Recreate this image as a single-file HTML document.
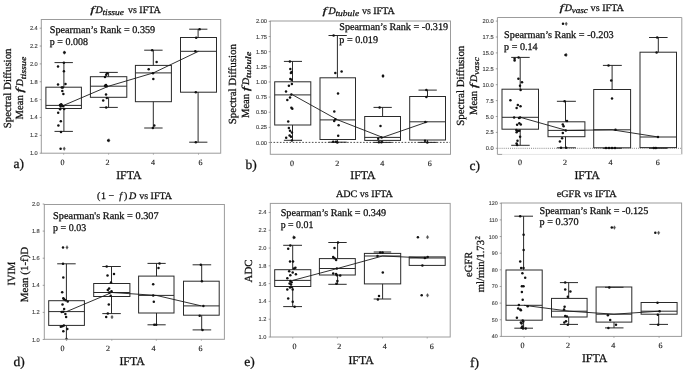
<!DOCTYPE html>
<html><head><meta charset="utf-8"><style>
html,body{margin:0;padding:0;background:#fff;width:685px;height:370px;overflow:hidden;font-family:"Liberation Serif", serif;}
svg{display:block;will-change:transform} text{text-rendering:geometricPrecision}
</style></head><body>
<svg width="685" height="370" viewBox="0 0 685 370">
<rect width="685" height="370" fill="#fff"/>
<rect x="45.9" y="87.2" width="35.50" height="21.30" fill="none" stroke="#2a2a2a" stroke-width="1.0"/>
<line x1="45.9" y1="105.4" x2="81.4" y2="105.4" stroke="#2a2a2a" stroke-width="1.0"/>
<line x1="63.9" y1="62.6" x2="63.9" y2="87.2" stroke="#2a2a2a" stroke-width="1.0"/>
<line x1="63.9" y1="108.5" x2="63.9" y2="131.4" stroke="#2a2a2a" stroke-width="1.0"/>
<line x1="54.5" y1="62.6" x2="72.9" y2="62.6" stroke="#2a2a2a" stroke-width="1.0"/>
<line x1="54.5" y1="131.4" x2="72.9" y2="131.4" stroke="#2a2a2a" stroke-width="1.0"/>
<rect x="90.4" y="76.7" width="36.40" height="20.60" fill="none" stroke="#2a2a2a" stroke-width="1.0"/>
<line x1="90.4" y1="86.2" x2="126.8" y2="86.2" stroke="#2a2a2a" stroke-width="1.0"/>
<line x1="108.6" y1="72.4" x2="108.6" y2="76.7" stroke="#2a2a2a" stroke-width="1.0"/>
<line x1="108.6" y1="97.3" x2="108.6" y2="107.4" stroke="#2a2a2a" stroke-width="1.0"/>
<line x1="99.5" y1="72.4" x2="117.8" y2="72.4" stroke="#2a2a2a" stroke-width="1.0"/>
<line x1="99.5" y1="107.4" x2="117.8" y2="107.4" stroke="#2a2a2a" stroke-width="1.0"/>
<rect x="135.4" y="65.4" width="36.00" height="36.30" fill="none" stroke="#2a2a2a" stroke-width="1.0"/>
<line x1="135.4" y1="72.9" x2="171.4" y2="72.9" stroke="#2a2a2a" stroke-width="1.0"/>
<line x1="153.3" y1="50.2" x2="153.3" y2="65.4" stroke="#2a2a2a" stroke-width="1.0"/>
<line x1="153.3" y1="101.7" x2="153.3" y2="128.0" stroke="#2a2a2a" stroke-width="1.0"/>
<line x1="144.2" y1="50.2" x2="162.6" y2="50.2" stroke="#2a2a2a" stroke-width="1.0"/>
<line x1="144.2" y1="128.0" x2="162.6" y2="128.0" stroke="#2a2a2a" stroke-width="1.0"/>
<rect x="180.5" y="37.5" width="36.00" height="54.70" fill="none" stroke="#2a2a2a" stroke-width="1.0"/>
<line x1="180.5" y1="51.3" x2="216.5" y2="51.3" stroke="#2a2a2a" stroke-width="1.0"/>
<line x1="198.1" y1="29.2" x2="198.1" y2="37.5" stroke="#2a2a2a" stroke-width="1.0"/>
<line x1="198.1" y1="92.2" x2="198.1" y2="142.2" stroke="#2a2a2a" stroke-width="1.0"/>
<line x1="189.2" y1="29.2" x2="207.4" y2="29.2" stroke="#2a2a2a" stroke-width="1.0"/>
<line x1="189.2" y1="142.2" x2="207.4" y2="142.2" stroke="#2a2a2a" stroke-width="1.0"/>
<polyline points="63.65,105.4 108.60,86.2 153.40,72.9 198.50,51.3" fill="none" stroke="#1a1a1a" stroke-width="0.9"/>
<path d="M64.2 146.79999999999998L65.45 148.7L64.2 150.6L62.95 148.7Z" fill="#555" stroke="#444" stroke-width="0.3"/>
<path d="M108.9 138.5L110.15 140.4L108.9 142.3L107.65 140.4Z" fill="#555" stroke="#444" stroke-width="0.3"/>
<path d="M64.3 50.7L65.55 52.6L64.3 54.5L63.05 52.6Z" fill="#555" stroke="#444" stroke-width="0.3"/>
<circle cx="64.5" cy="52.6" r="1.25" fill="#111"/>
<circle cx="63.9" cy="62.8" r="1.25" fill="#111"/>
<circle cx="58" cy="66.6" r="1.25" fill="#111"/>
<circle cx="63.9" cy="71.3" r="1.25" fill="#111"/>
<circle cx="58" cy="84.5" r="1.25" fill="#111"/>
<circle cx="65.5" cy="84.1" r="1.25" fill="#111"/>
<circle cx="61.8" cy="87.4" r="1.25" fill="#111"/>
<circle cx="62.8" cy="87.6" r="1.25" fill="#111"/>
<circle cx="62.3" cy="91" r="1.25" fill="#111"/>
<circle cx="63.4" cy="94" r="1.25" fill="#111"/>
<circle cx="60" cy="105" r="1.25" fill="#111"/>
<circle cx="61.2" cy="104.3" r="1.25" fill="#111"/>
<circle cx="62.2" cy="105.6" r="1.25" fill="#111"/>
<circle cx="60.6" cy="106.4" r="1.25" fill="#111"/>
<circle cx="63.2" cy="106.2" r="1.25" fill="#111"/>
<circle cx="60.1" cy="109.2" r="1.25" fill="#111"/>
<circle cx="64.2" cy="109" r="1.25" fill="#111"/>
<circle cx="58.2" cy="112.8" r="1.25" fill="#111"/>
<circle cx="60.8" cy="121.2" r="1.25" fill="#111"/>
<circle cx="58.4" cy="125.6" r="1.25" fill="#111"/>
<circle cx="61" cy="131.9" r="1.25" fill="#111"/>
<circle cx="107.2" cy="73.3" r="1.25" fill="#111"/>
<circle cx="106.2" cy="74.7" r="1.25" fill="#111"/>
<circle cx="105" cy="76.9" r="1.25" fill="#111"/>
<circle cx="106" cy="85.1" r="1.25" fill="#111"/>
<circle cx="106.8" cy="86.3" r="1.25" fill="#111"/>
<circle cx="105" cy="85.7" r="1.25" fill="#111"/>
<circle cx="106" cy="94.5" r="1.25" fill="#111"/>
<circle cx="106.8" cy="98.1" r="1.25" fill="#111"/>
<circle cx="103.2" cy="100.6" r="1.25" fill="#111"/>
<circle cx="106.2" cy="107.6" r="1.25" fill="#111"/>
<circle cx="60.6" cy="148.7" r="1.25" fill="#111"/>
<circle cx="108.2" cy="140.4" r="1.25" fill="#111"/>
<circle cx="152.2" cy="50.2" r="1.25" fill="#111"/>
<circle cx="156.6" cy="62" r="1.25" fill="#111"/>
<circle cx="148.7" cy="69.3" r="1.25" fill="#111"/>
<circle cx="153" cy="73.3" r="1.25" fill="#111"/>
<circle cx="153.3" cy="79.1" r="1.25" fill="#111"/>
<circle cx="152.9" cy="128" r="1.25" fill="#111"/>
<circle cx="154.3" cy="125.6" r="1.25" fill="#111"/>
<circle cx="199.6" cy="29.2" r="1.25" fill="#111"/>
<circle cx="196.2" cy="37.7" r="1.25" fill="#111"/>
<circle cx="195.3" cy="51.3" r="1.25" fill="#111"/>
<circle cx="195.8" cy="92.2" r="1.25" fill="#111"/>
<circle cx="195.8" cy="142.2" r="1.25" fill="#111"/>
<rect x="41.3" y="19.5" width="179.40" height="133.70" fill="none" stroke="#9c9c9c" stroke-width="1"/>
<line x1="39.699999999999996" y1="153.20" x2="41.3" y2="153.20" stroke="#666" stroke-width="0.6"/>
<text x="37.8" y="155.20" text-anchor="end" font-family='"Liberation Sans", sans-serif' font-size="5.7" fill="#404040" stroke="#404040" stroke-width="0.12">1.0</text>
<line x1="39.699999999999996" y1="135.34" x2="41.3" y2="135.34" stroke="#666" stroke-width="0.6"/>
<text x="37.8" y="137.34" text-anchor="end" font-family='"Liberation Sans", sans-serif' font-size="5.7" fill="#404040" stroke="#404040" stroke-width="0.12">1.2</text>
<line x1="39.699999999999996" y1="117.48" x2="41.3" y2="117.48" stroke="#666" stroke-width="0.6"/>
<text x="37.8" y="119.48" text-anchor="end" font-family='"Liberation Sans", sans-serif' font-size="5.7" fill="#404040" stroke="#404040" stroke-width="0.12">1.4</text>
<line x1="39.699999999999996" y1="99.62" x2="41.3" y2="99.62" stroke="#666" stroke-width="0.6"/>
<text x="37.8" y="101.62" text-anchor="end" font-family='"Liberation Sans", sans-serif' font-size="5.7" fill="#404040" stroke="#404040" stroke-width="0.12">1.6</text>
<line x1="39.699999999999996" y1="81.76" x2="41.3" y2="81.76" stroke="#666" stroke-width="0.6"/>
<text x="37.8" y="83.76" text-anchor="end" font-family='"Liberation Sans", sans-serif' font-size="5.7" fill="#404040" stroke="#404040" stroke-width="0.12">1.8</text>
<line x1="39.699999999999996" y1="63.90" x2="41.3" y2="63.90" stroke="#666" stroke-width="0.6"/>
<text x="37.8" y="65.90" text-anchor="end" font-family='"Liberation Sans", sans-serif' font-size="5.7" fill="#404040" stroke="#404040" stroke-width="0.12">2.0</text>
<line x1="39.699999999999996" y1="46.04" x2="41.3" y2="46.04" stroke="#666" stroke-width="0.6"/>
<text x="37.8" y="48.04" text-anchor="end" font-family='"Liberation Sans", sans-serif' font-size="5.7" fill="#404040" stroke="#404040" stroke-width="0.12">2.2</text>
<line x1="39.699999999999996" y1="28.18" x2="41.3" y2="28.18" stroke="#666" stroke-width="0.6"/>
<text x="37.8" y="30.18" text-anchor="end" font-family='"Liberation Sans", sans-serif' font-size="5.7" fill="#404040" stroke="#404040" stroke-width="0.12">2.4</text>
<line x1="63.65" y1="153.2" x2="63.65" y2="154.79999999999998" stroke="#888" stroke-width="0.6"/>
<line x1="108.60" y1="153.2" x2="108.60" y2="154.79999999999998" stroke="#888" stroke-width="0.6"/>
<line x1="153.40" y1="153.2" x2="153.40" y2="154.79999999999998" stroke="#888" stroke-width="0.6"/>
<line x1="198.50" y1="153.2" x2="198.50" y2="154.79999999999998" stroke="#888" stroke-width="0.6"/>
<text x="62.6" y="165.1" text-anchor="middle" font-family='"Liberation Serif", serif' font-size="8.0" fill="#222" stroke="#222" stroke-width="0.15">0</text>
<text x="107.6" y="165.1" text-anchor="middle" font-family='"Liberation Serif", serif' font-size="8.0" fill="#222" stroke="#222" stroke-width="0.15">2</text>
<text x="153.1" y="165.1" text-anchor="middle" font-family='"Liberation Serif", serif' font-size="8.0" fill="#222" stroke="#222" stroke-width="0.15">4</text>
<text x="200.5" y="165.1" text-anchor="middle" font-family='"Liberation Serif", serif' font-size="8.0" fill="#222" stroke="#222" stroke-width="0.15">6</text>
<text x="90.2" y="12.8" font-family='"Liberation Serif", serif' font-size="10" font-style="italic" textLength="4.20" lengthAdjust="spacingAndGlyphs" fill="#111" stroke="#111" stroke-width="0.26">f</text>
<text x="95.4" y="12.8" font-family='"Liberation Serif", serif' font-size="10" font-style="italic" fill="#111" stroke="#111" stroke-width="0.26">D</text>
<text x="102.4" y="15.2" font-family='"Liberation Serif", serif' font-size="8.4" font-style="italic" textLength="21.50" lengthAdjust="spacingAndGlyphs" fill="#111" stroke="#111" stroke-width="0.26">tissue</text>
<text x="128.0" y="12.8" font-family='"Liberation Serif", serif' font-size="10" textLength="32.60" lengthAdjust="spacingAndGlyphs" fill="#111" stroke="#111" stroke-width="0.26">vs IFTA</text>
<text x="49.8" y="33.4" font-family='"Liberation Serif", serif' font-size="10.2" textLength="105.40" lengthAdjust="spacingAndGlyphs" fill="#111" stroke="#111" stroke-width="0.26">Spearman’s Rank = 0.359</text>
<text x="49.8" y="45.3" font-family='"Liberation Serif", serif' font-size="10.2" textLength="38.10" lengthAdjust="spacingAndGlyphs" fill="#111" stroke="#111" stroke-width="0.26">p = 0.008</text>
<text transform="translate(10.8,128.3) rotate(-90)" x="0" y="0" font-family='"Liberation Serif", serif' font-size="10.9" textLength="79.80" lengthAdjust="spacingAndGlyphs" fill="#111" stroke="#111" stroke-width="0.26">Spectral Diffusion</text>
<text transform="translate(23.4,119.4) rotate(-90)" x="0" y="0" font-family='"Liberation Serif", serif' font-size="10.9" textLength="24.10" lengthAdjust="spacingAndGlyphs" fill="#111" stroke="#111" stroke-width="0.26">Mean</text>
<text transform="translate(23.4,92.7) rotate(-90)" x="0" y="0" font-family='"Liberation Serif", serif' font-size="10.5" font-style="italic" textLength="4.70" lengthAdjust="spacingAndGlyphs" fill="#111" stroke="#111" stroke-width="0.26">f</text>
<text transform="translate(23.4,86.3) rotate(-90)" x="0" y="0" font-family='"Liberation Serif", serif' font-size="10" font-style="italic" fill="#111" stroke="#111" stroke-width="0.26">D</text>
<text transform="translate(25.6,79.3) rotate(-90)" x="0" y="0" font-family='"Liberation Serif", serif' font-size="8" font-style="italic" textLength="22.70" lengthAdjust="spacingAndGlyphs" fill="#111" stroke="#111" stroke-width="0.26">tissue</text>
<text x="13.5" y="167.7" font-family='"Liberation Serif", serif' font-size="13.5" fill="#111" stroke="#111" stroke-width="0.26">a)</text>
<text x="116.2" y="179.1" font-family='"Liberation Serif", serif' font-size="11.8" fill="#111" stroke="#111" stroke-width="0.26">IFTA</text>
<line x1="270.3" y1="142.4" x2="450.5" y2="142.4" stroke="#3a3a3a" stroke-width="0.9" stroke-dasharray="1.6 1.6"/>
<rect x="274.7" y="81.8" width="36.10" height="43.20" fill="none" stroke="#2a2a2a" stroke-width="1.0"/>
<line x1="274.7" y1="94.9" x2="310.8" y2="94.9" stroke="#2a2a2a" stroke-width="1.0"/>
<line x1="292.5" y1="61.4" x2="292.5" y2="81.8" stroke="#2a2a2a" stroke-width="1.0"/>
<line x1="292.5" y1="125.0" x2="292.5" y2="140.3" stroke="#2a2a2a" stroke-width="1.0"/>
<line x1="283.9" y1="61.4" x2="302.0" y2="61.4" stroke="#2a2a2a" stroke-width="1.0"/>
<line x1="283.9" y1="140.3" x2="302.0" y2="140.3" stroke="#2a2a2a" stroke-width="1.0"/>
<rect x="320.0" y="77.8" width="35.50" height="61.70" fill="none" stroke="#2a2a2a" stroke-width="1.0"/>
<line x1="320.0" y1="119.9" x2="355.5" y2="119.9" stroke="#2a2a2a" stroke-width="1.0"/>
<line x1="337.4" y1="35.5" x2="337.4" y2="77.8" stroke="#2a2a2a" stroke-width="1.0"/>
<line x1="337.4" y1="139.5" x2="337.4" y2="142.2" stroke="#2a2a2a" stroke-width="1.0"/>
<line x1="328.5" y1="35.5" x2="346.8" y2="35.5" stroke="#2a2a2a" stroke-width="1.0"/>
<line x1="328.5" y1="142.2" x2="346.8" y2="142.2" stroke="#2a2a2a" stroke-width="1.0"/>
<rect x="364.7" y="116.5" width="35.80" height="23.90" fill="none" stroke="#2a2a2a" stroke-width="1.0"/>
<line x1="364.7" y1="137.4" x2="400.5" y2="137.4" stroke="#2a2a2a" stroke-width="1.0"/>
<line x1="382.6" y1="107.4" x2="382.6" y2="116.5" stroke="#2a2a2a" stroke-width="1.0"/>
<line x1="382.6" y1="140.4" x2="382.6" y2="142.4" stroke="#2a2a2a" stroke-width="1.0"/>
<line x1="373.5" y1="107.4" x2="391.8" y2="107.4" stroke="#2a2a2a" stroke-width="1.0"/>
<line x1="373.5" y1="142.4" x2="391.8" y2="142.4" stroke="#2a2a2a" stroke-width="1.0"/>
<rect x="409.7" y="96.5" width="35.80" height="43.50" fill="none" stroke="#2a2a2a" stroke-width="1.0"/>
<line x1="409.7" y1="121.8" x2="445.5" y2="121.8" stroke="#2a2a2a" stroke-width="1.0"/>
<line x1="427.5" y1="90.1" x2="427.5" y2="96.5" stroke="#2a2a2a" stroke-width="1.0"/>
<line x1="427.5" y1="140.0" x2="427.5" y2="142.4" stroke="#2a2a2a" stroke-width="1.0"/>
<line x1="418.5" y1="90.1" x2="436.8" y2="90.1" stroke="#2a2a2a" stroke-width="1.0"/>
<line x1="418.5" y1="142.4" x2="436.8" y2="142.4" stroke="#2a2a2a" stroke-width="1.0"/>
<polyline points="292.75,94.9 337.75,119.9 382.60,137.4 427.60,121.8" fill="none" stroke="#1a1a1a" stroke-width="0.9"/>
<path d="M383.0 74.1L384.25 76.0L383.0 77.9L381.75 76.0Z" fill="#555" stroke="#444" stroke-width="0.3"/>
<circle cx="289.9" cy="61.4" r="1.25" fill="#111"/>
<circle cx="290.3" cy="68.9" r="1.25" fill="#111"/>
<circle cx="291.6" cy="71.9" r="1.25" fill="#111"/>
<circle cx="290.9" cy="73" r="1.25" fill="#111"/>
<circle cx="290.3" cy="79" r="1.25" fill="#111"/>
<circle cx="291.6" cy="79.7" r="1.25" fill="#111"/>
<circle cx="291.9" cy="84.1" r="1.25" fill="#111"/>
<circle cx="288.9" cy="85.7" r="1.25" fill="#111"/>
<circle cx="286" cy="91.5" r="1.25" fill="#111"/>
<circle cx="291.4" cy="94.5" r="1.25" fill="#111"/>
<circle cx="290" cy="97.6" r="1.25" fill="#111"/>
<circle cx="287.3" cy="99.9" r="1.25" fill="#111"/>
<circle cx="291.4" cy="107.8" r="1.25" fill="#111"/>
<circle cx="292.3" cy="108.8" r="1.25" fill="#111"/>
<circle cx="288.2" cy="121.6" r="1.25" fill="#111"/>
<circle cx="288.9" cy="128" r="1.25" fill="#111"/>
<circle cx="290" cy="130.8" r="1.25" fill="#111"/>
<circle cx="291.9" cy="132.4" r="1.25" fill="#111"/>
<circle cx="289.6" cy="135.4" r="1.25" fill="#111"/>
<circle cx="291" cy="136.8" r="1.25" fill="#111"/>
<circle cx="286.2" cy="137.8" r="1.25" fill="#111"/>
<circle cx="291.9" cy="140.5" r="1.25" fill="#111"/>
<circle cx="333.6" cy="35.5" r="1.25" fill="#111"/>
<circle cx="335.3" cy="73.1" r="1.25" fill="#111"/>
<circle cx="341.6" cy="71.4" r="1.25" fill="#111"/>
<circle cx="338" cy="93.4" r="1.25" fill="#111"/>
<circle cx="334.3" cy="111.4" r="1.25" fill="#111"/>
<circle cx="334.2" cy="121" r="1.25" fill="#111"/>
<circle cx="335.3" cy="119.2" r="1.25" fill="#111"/>
<circle cx="338.6" cy="125.3" r="1.25" fill="#111"/>
<circle cx="338.2" cy="135.8" r="1.25" fill="#111"/>
<circle cx="333.2" cy="141.8" r="1.25" fill="#111"/>
<circle cx="336" cy="141.8" r="1.25" fill="#111"/>
<circle cx="337.3" cy="142.6" r="1.25" fill="#111"/>
<circle cx="383" cy="76" r="1.25" fill="#111"/>
<circle cx="379.6" cy="107.4" r="1.25" fill="#111"/>
<circle cx="380.5" cy="126" r="1.25" fill="#111"/>
<circle cx="381.6" cy="137.4" r="1.25" fill="#111"/>
<circle cx="378.2" cy="138.8" r="1.25" fill="#111"/>
<circle cx="378.9" cy="142.2" r="1.25" fill="#111"/>
<circle cx="381.4" cy="142.2" r="1.25" fill="#111"/>
<circle cx="426.4" cy="90.1" r="1.25" fill="#111"/>
<circle cx="426.4" cy="96.9" r="1.25" fill="#111"/>
<circle cx="425.3" cy="121.9" r="1.25" fill="#111"/>
<circle cx="425" cy="140.8" r="1.25" fill="#111"/>
<circle cx="427.3" cy="142.4" r="1.25" fill="#111"/>
<rect x="270.3" y="21.0" width="180.20" height="133.30" fill="none" stroke="#9c9c9c" stroke-width="1"/>
<line x1="268.7" y1="142.50" x2="270.3" y2="142.50" stroke="#666" stroke-width="0.6"/>
<text x="267.0" y="144.50" text-anchor="end" font-family='"Liberation Sans", sans-serif' font-size="5.7" fill="#404040" stroke="#404040" stroke-width="0.12">0.00</text>
<line x1="268.7" y1="127.36" x2="270.3" y2="127.36" stroke="#666" stroke-width="0.6"/>
<text x="267.0" y="129.36" text-anchor="end" font-family='"Liberation Sans", sans-serif' font-size="5.7" fill="#404040" stroke="#404040" stroke-width="0.12">0.25</text>
<line x1="268.7" y1="112.22" x2="270.3" y2="112.22" stroke="#666" stroke-width="0.6"/>
<text x="267.0" y="114.22" text-anchor="end" font-family='"Liberation Sans", sans-serif' font-size="5.7" fill="#404040" stroke="#404040" stroke-width="0.12">0.50</text>
<line x1="268.7" y1="97.08" x2="270.3" y2="97.08" stroke="#666" stroke-width="0.6"/>
<text x="267.0" y="99.08" text-anchor="end" font-family='"Liberation Sans", sans-serif' font-size="5.7" fill="#404040" stroke="#404040" stroke-width="0.12">0.75</text>
<line x1="268.7" y1="81.94" x2="270.3" y2="81.94" stroke="#666" stroke-width="0.6"/>
<text x="267.0" y="83.94" text-anchor="end" font-family='"Liberation Sans", sans-serif' font-size="5.7" fill="#404040" stroke="#404040" stroke-width="0.12">1.00</text>
<line x1="268.7" y1="66.80" x2="270.3" y2="66.80" stroke="#666" stroke-width="0.6"/>
<text x="267.0" y="68.80" text-anchor="end" font-family='"Liberation Sans", sans-serif' font-size="5.7" fill="#404040" stroke="#404040" stroke-width="0.12">1.25</text>
<line x1="268.7" y1="51.66" x2="270.3" y2="51.66" stroke="#666" stroke-width="0.6"/>
<text x="267.0" y="53.66" text-anchor="end" font-family='"Liberation Sans", sans-serif' font-size="5.7" fill="#404040" stroke="#404040" stroke-width="0.12">1.50</text>
<line x1="268.7" y1="36.52" x2="270.3" y2="36.52" stroke="#666" stroke-width="0.6"/>
<text x="267.0" y="38.52" text-anchor="end" font-family='"Liberation Sans", sans-serif' font-size="5.7" fill="#404040" stroke="#404040" stroke-width="0.12">1.75</text>
<line x1="268.7" y1="21.38" x2="270.3" y2="21.38" stroke="#666" stroke-width="0.6"/>
<text x="267.0" y="23.38" text-anchor="end" font-family='"Liberation Sans", sans-serif' font-size="5.7" fill="#404040" stroke="#404040" stroke-width="0.12">2.00</text>
<text x="291.9" y="165.9" text-anchor="middle" font-family='"Liberation Serif", serif' font-size="8.0" fill="#222" stroke="#222" stroke-width="0.15">0</text>
<text x="337.2" y="165.9" text-anchor="middle" font-family='"Liberation Serif", serif' font-size="8.0" fill="#222" stroke="#222" stroke-width="0.15">2</text>
<text x="382.3" y="165.9" text-anchor="middle" font-family='"Liberation Serif", serif' font-size="8.0" fill="#222" stroke="#222" stroke-width="0.15">4</text>
<text x="429.8" y="165.9" text-anchor="middle" font-family='"Liberation Serif", serif' font-size="8.0" fill="#222" stroke="#222" stroke-width="0.15">6</text>
<text x="322.6" y="13.9" font-family='"Liberation Serif", serif' font-size="10" font-style="italic" textLength="4.20" lengthAdjust="spacingAndGlyphs" fill="#111" stroke="#111" stroke-width="0.26">f</text>
<text x="328.4" y="13.9" font-family='"Liberation Serif", serif' font-size="10" font-style="italic" fill="#111" stroke="#111" stroke-width="0.26">D</text>
<text x="335.5" y="16.2" font-family='"Liberation Serif", serif' font-size="8.4" font-style="italic" textLength="23.60" lengthAdjust="spacingAndGlyphs" fill="#111" stroke="#111" stroke-width="0.26">tubule</text>
<text x="361.9" y="14.3" font-family='"Liberation Serif", serif' font-size="10" textLength="32.80" lengthAdjust="spacingAndGlyphs" fill="#111" stroke="#111" stroke-width="0.26">vs IFTA</text>
<text x="339.3" y="30.4" font-family='"Liberation Serif", serif' font-size="10.2" textLength="108.80" lengthAdjust="spacingAndGlyphs" fill="#111" stroke="#111" stroke-width="0.26">Spearman’s Rank = -0.319</text>
<text x="339.3" y="42.7" font-family='"Liberation Serif", serif' font-size="10.2" textLength="38.70" lengthAdjust="spacingAndGlyphs" fill="#111" stroke="#111" stroke-width="0.26">p = 0.019</text>
<text transform="translate(235.8,124.2) rotate(-90)" x="0" y="0" font-family='"Liberation Serif", serif' font-size="10.9" textLength="80.10" lengthAdjust="spacingAndGlyphs" fill="#111" stroke="#111" stroke-width="0.26">Spectral Diffusion</text>
<text transform="translate(248.6,118.0) rotate(-90)" x="0" y="0" font-family='"Liberation Serif", serif' font-size="10.9" textLength="24.10" lengthAdjust="spacingAndGlyphs" fill="#111" stroke="#111" stroke-width="0.26">Mean</text>
<text transform="translate(248.6,91.3) rotate(-90)" x="0" y="0" font-family='"Liberation Serif", serif' font-size="10.5" font-style="italic" textLength="4.70" lengthAdjust="spacingAndGlyphs" fill="#111" stroke="#111" stroke-width="0.26">f</text>
<text transform="translate(248.6,84.9) rotate(-90)" x="0" y="0" font-family='"Liberation Serif", serif' font-size="10" font-style="italic" fill="#111" stroke="#111" stroke-width="0.26">D</text>
<text transform="translate(250.8,77.9) rotate(-90)" x="0" y="0" font-family='"Liberation Serif", serif' font-size="8" font-style="italic" textLength="26.30" lengthAdjust="spacingAndGlyphs" fill="#111" stroke="#111" stroke-width="0.26">tubule</text>
<text x="245.5" y="169.3" font-family='"Liberation Serif", serif' font-size="13.5" fill="#111" stroke="#111" stroke-width="0.26">b)</text>
<text x="350.3" y="178.8" font-family='"Liberation Serif", serif' font-size="11.8" fill="#111" stroke="#111" stroke-width="0.26">IFTA</text>
<line x1="497.4" y1="148.3" x2="681.8" y2="148.3" stroke="#8a8a8a" stroke-width="1" stroke-dasharray="1 1.1"/>
<rect x="502.0" y="89.2" width="36.50" height="40.00" fill="none" stroke="#2a2a2a" stroke-width="1.0"/>
<line x1="502.0" y1="117.3" x2="538.5" y2="117.3" stroke="#2a2a2a" stroke-width="1.0"/>
<line x1="520.2" y1="57.4" x2="520.2" y2="89.2" stroke="#2a2a2a" stroke-width="1.0"/>
<line x1="520.2" y1="129.2" x2="520.2" y2="145.3" stroke="#2a2a2a" stroke-width="1.0"/>
<line x1="511.2" y1="57.4" x2="529.7" y2="57.4" stroke="#2a2a2a" stroke-width="1.0"/>
<line x1="511.2" y1="145.3" x2="529.7" y2="145.3" stroke="#2a2a2a" stroke-width="1.0"/>
<rect x="548.0" y="121.8" width="36.90" height="14.90" fill="none" stroke="#2a2a2a" stroke-width="1.0"/>
<line x1="548.0" y1="130.4" x2="584.9" y2="130.4" stroke="#2a2a2a" stroke-width="1.0"/>
<line x1="565.5" y1="101.3" x2="565.5" y2="121.8" stroke="#2a2a2a" stroke-width="1.0"/>
<line x1="565.5" y1="136.7" x2="565.5" y2="147.8" stroke="#2a2a2a" stroke-width="1.0"/>
<line x1="556.9" y1="101.3" x2="575.9" y2="101.3" stroke="#2a2a2a" stroke-width="1.0"/>
<line x1="556.9" y1="147.8" x2="575.9" y2="147.8" stroke="#2a2a2a" stroke-width="1.0"/>
<rect x="593.7" y="89.5" width="36.90" height="58.30" fill="none" stroke="#2a2a2a" stroke-width="1.0"/>
<line x1="593.7" y1="129.8" x2="630.6" y2="129.8" stroke="#2a2a2a" stroke-width="1.0"/>
<line x1="612.1" y1="65.4" x2="612.1" y2="89.5" stroke="#2a2a2a" stroke-width="1.0"/>
<line x1="612.1" y1="147.8" x2="612.1" y2="148.3" stroke="#2a2a2a" stroke-width="1.0"/>
<line x1="602.9" y1="65.4" x2="621.8" y2="65.4" stroke="#2a2a2a" stroke-width="1.0"/>
<line x1="602.9" y1="148.3" x2="621.8" y2="148.3" stroke="#2a2a2a" stroke-width="1.0"/>
<rect x="640.0" y="52.2" width="36.50" height="95.40" fill="none" stroke="#2a2a2a" stroke-width="1.0"/>
<line x1="640.0" y1="137.0" x2="676.5" y2="137.0" stroke="#2a2a2a" stroke-width="1.0"/>
<line x1="658.3" y1="37.5" x2="658.3" y2="52.2" stroke="#2a2a2a" stroke-width="1.0"/>
<line x1="658.3" y1="147.6" x2="658.3" y2="148.3" stroke="#2a2a2a" stroke-width="1.0"/>
<line x1="649.0" y1="37.5" x2="667.6" y2="37.5" stroke="#2a2a2a" stroke-width="1.0"/>
<line x1="649.0" y1="148.3" x2="667.6" y2="148.3" stroke="#2a2a2a" stroke-width="1.0"/>
<polyline points="520.25,117.3 566.45,130.4 612.15,129.8 658.25,137.0" fill="none" stroke="#1a1a1a" stroke-width="0.9"/>
<path d="M566.2 21.900000000000002L567.45 23.8L566.2 25.7L564.95 23.8Z" fill="#555" stroke="#444" stroke-width="0.3"/>
<path d="M566.2 53.0L567.45 54.9L566.2 56.8L564.95 54.9Z" fill="#555" stroke="#444" stroke-width="0.3"/>
<circle cx="514.6" cy="58.8" r="1.25" fill="#111"/>
<circle cx="514.6" cy="60.5" r="1.25" fill="#111"/>
<circle cx="518.6" cy="57.4" r="1.25" fill="#111"/>
<circle cx="518.4" cy="78.8" r="1.25" fill="#111"/>
<circle cx="522" cy="82.2" r="1.25" fill="#111"/>
<circle cx="520" cy="85.8" r="1.25" fill="#111"/>
<circle cx="520.6" cy="89.9" r="1.25" fill="#111"/>
<circle cx="510.4" cy="100.2" r="1.25" fill="#111"/>
<circle cx="517.8" cy="105.1" r="1.25" fill="#111"/>
<circle cx="520.5" cy="106.2" r="1.25" fill="#111"/>
<circle cx="516.6" cy="108.1" r="1.25" fill="#111"/>
<circle cx="514.1" cy="117.6" r="1.25" fill="#111"/>
<circle cx="519" cy="118.1" r="1.25" fill="#111"/>
<circle cx="520.1" cy="117.6" r="1.25" fill="#111"/>
<circle cx="519.3" cy="123.3" r="1.25" fill="#111"/>
<circle cx="520.8" cy="124.5" r="1.25" fill="#111"/>
<circle cx="517.1" cy="124.8" r="1.25" fill="#111"/>
<circle cx="516.3" cy="130" r="1.25" fill="#111"/>
<circle cx="517.8" cy="131" r="1.25" fill="#111"/>
<circle cx="519.3" cy="130.7" r="1.25" fill="#111"/>
<circle cx="516.6" cy="132.2" r="1.25" fill="#111"/>
<circle cx="520.1" cy="136.7" r="1.25" fill="#111"/>
<circle cx="517.5" cy="140.8" r="1.25" fill="#111"/>
<circle cx="516.6" cy="143.4" r="1.25" fill="#111"/>
<circle cx="517.1" cy="144.9" r="1.25" fill="#111"/>
<circle cx="563" cy="23.8" r="1.25" fill="#111"/>
<circle cx="565.5" cy="54.9" r="1.25" fill="#111"/>
<circle cx="564.6" cy="101.3" r="1.25" fill="#111"/>
<circle cx="567" cy="121" r="1.25" fill="#111"/>
<circle cx="562.8" cy="124.5" r="1.25" fill="#111"/>
<circle cx="563.6" cy="126.3" r="1.25" fill="#111"/>
<circle cx="565.8" cy="130.4" r="1.25" fill="#111"/>
<circle cx="562.8" cy="133" r="1.25" fill="#111"/>
<circle cx="562.1" cy="138.2" r="1.25" fill="#111"/>
<circle cx="559.9" cy="141.4" r="1.25" fill="#111"/>
<circle cx="561" cy="147.8" r="1.25" fill="#111"/>
<circle cx="566.1" cy="147.8" r="1.25" fill="#111"/>
<circle cx="608.5" cy="65.5" r="1.25" fill="#111"/>
<circle cx="611.2" cy="80.4" r="1.25" fill="#111"/>
<circle cx="612" cy="98.5" r="1.25" fill="#111"/>
<circle cx="615.5" cy="129.8" r="1.25" fill="#111"/>
<circle cx="606" cy="148" r="1.25" fill="#111"/>
<circle cx="609" cy="148" r="1.25" fill="#111"/>
<circle cx="612" cy="148" r="1.25" fill="#111"/>
<circle cx="615" cy="148" r="1.25" fill="#111"/>
<circle cx="657.2" cy="37.5" r="1.25" fill="#111"/>
<circle cx="656.6" cy="52.4" r="1.25" fill="#111"/>
<circle cx="658" cy="137" r="1.25" fill="#111"/>
<circle cx="653.8" cy="147.9" r="1.25" fill="#111"/>
<circle cx="655.9" cy="147.9" r="1.25" fill="#111"/>
<path d="M497.4 17.5H681.8V154.4" fill="none" stroke="#9c9c9c" stroke-width="1"/>
<path d="M497.4 17.5V154.4H502.4" fill="none" stroke="#9c9c9c" stroke-width="1"/>
<line x1="502.4" y1="154.4" x2="681.8" y2="154.4" stroke="#e6e6e6" stroke-width="1"/>
<line x1="495.79999999999995" y1="148.30" x2="497.4" y2="148.30" stroke="#666" stroke-width="0.6"/>
<text x="493.7" y="150.30" text-anchor="end" font-family='"Liberation Sans", sans-serif' font-size="5.7" fill="#404040" stroke="#404040" stroke-width="0.12">0.0</text>
<line x1="495.79999999999995" y1="132.40" x2="497.4" y2="132.40" stroke="#666" stroke-width="0.6"/>
<text x="493.7" y="134.40" text-anchor="end" font-family='"Liberation Sans", sans-serif' font-size="5.7" fill="#404040" stroke="#404040" stroke-width="0.12">2.5</text>
<line x1="495.79999999999995" y1="116.50" x2="497.4" y2="116.50" stroke="#666" stroke-width="0.6"/>
<text x="493.7" y="118.50" text-anchor="end" font-family='"Liberation Sans", sans-serif' font-size="5.7" fill="#404040" stroke="#404040" stroke-width="0.12">5.0</text>
<line x1="495.79999999999995" y1="100.60" x2="497.4" y2="100.60" stroke="#666" stroke-width="0.6"/>
<text x="493.7" y="102.60" text-anchor="end" font-family='"Liberation Sans", sans-serif' font-size="5.7" fill="#404040" stroke="#404040" stroke-width="0.12">7.5</text>
<line x1="495.79999999999995" y1="84.70" x2="497.4" y2="84.70" stroke="#666" stroke-width="0.6"/>
<text x="493.7" y="86.70" text-anchor="end" font-family='"Liberation Sans", sans-serif' font-size="5.7" fill="#404040" stroke="#404040" stroke-width="0.12">10.0</text>
<line x1="495.79999999999995" y1="68.80" x2="497.4" y2="68.80" stroke="#666" stroke-width="0.6"/>
<text x="493.7" y="70.80" text-anchor="end" font-family='"Liberation Sans", sans-serif' font-size="5.7" fill="#404040" stroke="#404040" stroke-width="0.12">12.5</text>
<line x1="495.79999999999995" y1="52.90" x2="497.4" y2="52.90" stroke="#666" stroke-width="0.6"/>
<text x="493.7" y="54.90" text-anchor="end" font-family='"Liberation Sans", sans-serif' font-size="5.7" fill="#404040" stroke="#404040" stroke-width="0.12">15.0</text>
<line x1="495.79999999999995" y1="37.00" x2="497.4" y2="37.00" stroke="#666" stroke-width="0.6"/>
<text x="493.7" y="39.00" text-anchor="end" font-family='"Liberation Sans", sans-serif' font-size="5.7" fill="#404040" stroke="#404040" stroke-width="0.12">17.5</text>
<line x1="495.79999999999995" y1="21.10" x2="497.4" y2="21.10" stroke="#666" stroke-width="0.6"/>
<text x="493.7" y="23.10" text-anchor="end" font-family='"Liberation Sans", sans-serif' font-size="5.7" fill="#404040" stroke="#404040" stroke-width="0.12">20.0</text>
<text x="519.9" y="164.8" text-anchor="middle" font-family='"Liberation Serif", serif' font-size="8.0" fill="#222" stroke="#222" stroke-width="0.15">0</text>
<text x="564.9" y="164.8" text-anchor="middle" font-family='"Liberation Serif", serif' font-size="8.0" fill="#222" stroke="#222" stroke-width="0.15">2</text>
<text x="610.5" y="164.8" text-anchor="middle" font-family='"Liberation Serif", serif' font-size="8.0" fill="#222" stroke="#222" stroke-width="0.15">4</text>
<text x="657.7" y="164.8" text-anchor="middle" font-family='"Liberation Serif", serif' font-size="8.0" fill="#222" stroke="#222" stroke-width="0.15">6</text>
<text x="559.6" y="10.5" font-family='"Liberation Serif", serif' font-size="10" font-style="italic" textLength="4.20" lengthAdjust="spacingAndGlyphs" fill="#111" stroke="#111" stroke-width="0.26">f</text>
<text x="564.8" y="10.5" font-family='"Liberation Serif", serif' font-size="10" font-style="italic" fill="#111" stroke="#111" stroke-width="0.26">D</text>
<text x="571.8" y="12.7" font-family='"Liberation Serif", serif' font-size="8.4" font-style="italic" textLength="16.00" lengthAdjust="spacingAndGlyphs" fill="#111" stroke="#111" stroke-width="0.26">vasc</text>
<text x="590.6" y="10.8" font-family='"Liberation Serif", serif' font-size="10" textLength="33.30" lengthAdjust="spacingAndGlyphs" fill="#111" stroke="#111" stroke-width="0.26">vs IFTA</text>
<text x="504.1" y="37.6" font-family='"Liberation Serif", serif' font-size="10.2" textLength="109.60" lengthAdjust="spacingAndGlyphs" fill="#111" stroke="#111" stroke-width="0.26">Spearman’s Rank = -0.203</text>
<text x="504.1" y="49.7" font-family='"Liberation Serif", serif' font-size="10.2" textLength="33.50" lengthAdjust="spacingAndGlyphs" fill="#111" stroke="#111" stroke-width="0.26">p = 0.14</text>
<text transform="translate(464.0,125.8) rotate(-90)" x="0" y="0" font-family='"Liberation Serif", serif' font-size="10.9" textLength="80.10" lengthAdjust="spacingAndGlyphs" fill="#111" stroke="#111" stroke-width="0.26">Spectral Diffusion</text>
<text transform="translate(476.5,115.0) rotate(-90)" x="0" y="0" font-family='"Liberation Serif", serif' font-size="10.9" textLength="24.10" lengthAdjust="spacingAndGlyphs" fill="#111" stroke="#111" stroke-width="0.26">Mean</text>
<text transform="translate(476.5,88.3) rotate(-90)" x="0" y="0" font-family='"Liberation Serif", serif' font-size="10.5" font-style="italic" textLength="4.70" lengthAdjust="spacingAndGlyphs" fill="#111" stroke="#111" stroke-width="0.26">f</text>
<text transform="translate(476.5,81.9) rotate(-90)" x="0" y="0" font-family='"Liberation Serif", serif' font-size="10" font-style="italic" fill="#111" stroke="#111" stroke-width="0.26">D</text>
<text transform="translate(478.7,74.9) rotate(-90)" x="0" y="0" font-family='"Liberation Serif", serif' font-size="8" font-style="italic" textLength="17.90" lengthAdjust="spacingAndGlyphs" fill="#111" stroke="#111" stroke-width="0.26">vasc</text>
<text x="469.6" y="169.6" font-family='"Liberation Serif", serif' font-size="13.5" fill="#111" stroke="#111" stroke-width="0.26">c)</text>
<text x="574.4" y="179.1" font-family='"Liberation Serif", serif' font-size="11.8" fill="#111" stroke="#111" stroke-width="0.26">IFTA</text>
<rect x="48.7" y="300.7" width="35.70" height="24.70" fill="none" stroke="#2a2a2a" stroke-width="1.0"/>
<line x1="48.7" y1="311.6" x2="84.4" y2="311.6" stroke="#2a2a2a" stroke-width="1.0"/>
<line x1="66.4" y1="263.8" x2="66.4" y2="300.7" stroke="#2a2a2a" stroke-width="1.0"/>
<line x1="66.4" y1="325.4" x2="66.4" y2="339.3" stroke="#2a2a2a" stroke-width="1.0"/>
<line x1="57.2" y1="263.8" x2="75.7" y2="263.8" stroke="#2a2a2a" stroke-width="1.0"/>
<rect x="93.7" y="283.5" width="36.20" height="13.00" fill="none" stroke="#2a2a2a" stroke-width="1.0"/>
<line x1="93.7" y1="292.5" x2="129.9" y2="292.5" stroke="#2a2a2a" stroke-width="1.0"/>
<line x1="111.5" y1="266.5" x2="111.5" y2="283.5" stroke="#2a2a2a" stroke-width="1.0"/>
<line x1="111.5" y1="296.5" x2="111.5" y2="313.6" stroke="#2a2a2a" stroke-width="1.0"/>
<line x1="102.3" y1="266.5" x2="120.8" y2="266.5" stroke="#2a2a2a" stroke-width="1.0"/>
<line x1="102.3" y1="313.6" x2="120.8" y2="313.6" stroke="#2a2a2a" stroke-width="1.0"/>
<rect x="138.6" y="276.1" width="35.40" height="36.90" fill="none" stroke="#2a2a2a" stroke-width="1.0"/>
<line x1="138.6" y1="295.4" x2="174.0" y2="295.4" stroke="#2a2a2a" stroke-width="1.0"/>
<line x1="156.5" y1="263.4" x2="156.5" y2="276.1" stroke="#2a2a2a" stroke-width="1.0"/>
<line x1="156.5" y1="313.0" x2="156.5" y2="324.8" stroke="#2a2a2a" stroke-width="1.0"/>
<line x1="147.5" y1="263.4" x2="165.7" y2="263.4" stroke="#2a2a2a" stroke-width="1.0"/>
<line x1="147.5" y1="324.8" x2="165.7" y2="324.8" stroke="#2a2a2a" stroke-width="1.0"/>
<rect x="183.5" y="281.2" width="35.70" height="34.00" fill="none" stroke="#2a2a2a" stroke-width="1.0"/>
<line x1="183.5" y1="305.9" x2="219.2" y2="305.9" stroke="#2a2a2a" stroke-width="1.0"/>
<line x1="201.7" y1="264.8" x2="201.7" y2="281.2" stroke="#2a2a2a" stroke-width="1.0"/>
<line x1="201.7" y1="315.2" x2="201.7" y2="329.9" stroke="#2a2a2a" stroke-width="1.0"/>
<line x1="192.6" y1="264.8" x2="211.2" y2="264.8" stroke="#2a2a2a" stroke-width="1.0"/>
<line x1="192.6" y1="329.9" x2="211.2" y2="329.9" stroke="#2a2a2a" stroke-width="1.0"/>
<polyline points="66.55,311.6 111.80,292.5 156.30,295.4 201.35,305.9" fill="none" stroke="#1a1a1a" stroke-width="0.9"/>
<path d="M67.0 245.5L68.25 247.4L67.0 249.3L65.75 247.4Z" fill="#555" stroke="#444" stroke-width="0.3"/>
<path d="M112.0 315.20000000000005L113.25 317.1L112.0 319.0L110.75 317.1Z" fill="#555" stroke="#444" stroke-width="0.3"/>
<circle cx="63" cy="247.4" r="1.25" fill="#111"/>
<circle cx="63" cy="263.8" r="1.25" fill="#111"/>
<circle cx="63.3" cy="277.6" r="1.25" fill="#111"/>
<circle cx="62.2" cy="292.2" r="1.25" fill="#111"/>
<circle cx="63.3" cy="298.2" r="1.25" fill="#111"/>
<circle cx="64.1" cy="299.2" r="1.25" fill="#111"/>
<circle cx="65.7" cy="300.3" r="1.25" fill="#111"/>
<circle cx="67.7" cy="301.4" r="1.25" fill="#111"/>
<circle cx="62.5" cy="304.4" r="1.25" fill="#111"/>
<circle cx="64.1" cy="308.9" r="1.25" fill="#111"/>
<circle cx="61.7" cy="312.1" r="1.25" fill="#111"/>
<circle cx="63.3" cy="311.7" r="1.25" fill="#111"/>
<circle cx="65.4" cy="314.1" r="1.25" fill="#111"/>
<circle cx="66.1" cy="317" r="1.25" fill="#111"/>
<circle cx="60.8" cy="326.8" r="1.25" fill="#111"/>
<circle cx="62.4" cy="326.3" r="1.25" fill="#111"/>
<circle cx="63.9" cy="325.5" r="1.25" fill="#111"/>
<circle cx="67.3" cy="328.9" r="1.25" fill="#111"/>
<circle cx="63.3" cy="331.2" r="1.25" fill="#111"/>
<circle cx="66.5" cy="338.9" r="1.25" fill="#111"/>
<circle cx="106.7" cy="266.5" r="1.25" fill="#111"/>
<circle cx="107.5" cy="275.4" r="1.25" fill="#111"/>
<circle cx="114" cy="274.1" r="1.25" fill="#111"/>
<circle cx="111" cy="282.4" r="1.25" fill="#111"/>
<circle cx="109.1" cy="288.4" r="1.25" fill="#111"/>
<circle cx="107.8" cy="290" r="1.25" fill="#111"/>
<circle cx="111.5" cy="291.3" r="1.25" fill="#111"/>
<circle cx="109.1" cy="292.5" r="1.25" fill="#111"/>
<circle cx="110.7" cy="295.7" r="1.25" fill="#111"/>
<circle cx="108.8" cy="304.6" r="1.25" fill="#111"/>
<circle cx="107.8" cy="313.6" r="1.25" fill="#111"/>
<circle cx="106.2" cy="317.1" r="1.25" fill="#111"/>
<circle cx="159.5" cy="263.4" r="1.25" fill="#111"/>
<circle cx="158.5" cy="268.1" r="1.25" fill="#111"/>
<circle cx="153.2" cy="284.2" r="1.25" fill="#111"/>
<circle cx="153.2" cy="295.6" r="1.25" fill="#111"/>
<circle cx="153.8" cy="301.7" r="1.25" fill="#111"/>
<circle cx="154.3" cy="324.8" r="1.25" fill="#111"/>
<circle cx="156.2" cy="324.8" r="1.25" fill="#111"/>
<circle cx="200.8" cy="264.8" r="1.25" fill="#111"/>
<circle cx="201.9" cy="281.2" r="1.25" fill="#111"/>
<circle cx="203.4" cy="305.9" r="1.25" fill="#111"/>
<circle cx="199.7" cy="315.8" r="1.25" fill="#111"/>
<circle cx="202.5" cy="329.9" r="1.25" fill="#111"/>
<rect x="44.3" y="204.5" width="180.10" height="134.80" fill="none" stroke="#9c9c9c" stroke-width="1"/>
<line x1="42.699999999999996" y1="339.50" x2="44.3" y2="339.50" stroke="#666" stroke-width="0.6"/>
<text x="39.8" y="341.50" text-anchor="end" font-family='"Liberation Sans", sans-serif' font-size="5.7" fill="#404040" stroke="#404040" stroke-width="0.12">1.0</text>
<line x1="42.699999999999996" y1="312.40" x2="44.3" y2="312.40" stroke="#666" stroke-width="0.6"/>
<text x="39.8" y="314.40" text-anchor="end" font-family='"Liberation Sans", sans-serif' font-size="5.7" fill="#404040" stroke="#404040" stroke-width="0.12">1.2</text>
<line x1="42.699999999999996" y1="285.30" x2="44.3" y2="285.30" stroke="#666" stroke-width="0.6"/>
<text x="39.8" y="287.30" text-anchor="end" font-family='"Liberation Sans", sans-serif' font-size="5.7" fill="#404040" stroke="#404040" stroke-width="0.12">1.4</text>
<line x1="42.699999999999996" y1="258.20" x2="44.3" y2="258.20" stroke="#666" stroke-width="0.6"/>
<text x="39.8" y="260.20" text-anchor="end" font-family='"Liberation Sans", sans-serif' font-size="5.7" fill="#404040" stroke="#404040" stroke-width="0.12">1.6</text>
<line x1="42.699999999999996" y1="231.10" x2="44.3" y2="231.10" stroke="#666" stroke-width="0.6"/>
<text x="39.8" y="233.10" text-anchor="end" font-family='"Liberation Sans", sans-serif' font-size="5.7" fill="#404040" stroke="#404040" stroke-width="0.12">1.8</text>
<line x1="42.699999999999996" y1="204.00" x2="44.3" y2="204.00" stroke="#666" stroke-width="0.6"/>
<text x="39.8" y="206.00" text-anchor="end" font-family='"Liberation Sans", sans-serif' font-size="5.7" fill="#404040" stroke="#404040" stroke-width="0.12">2.0</text>
<line x1="66.55" y1="339.3" x2="66.55" y2="340.90000000000003" stroke="#888" stroke-width="0.6"/>
<line x1="111.80" y1="339.3" x2="111.80" y2="340.90000000000003" stroke="#888" stroke-width="0.6"/>
<line x1="156.30" y1="339.3" x2="156.30" y2="340.90000000000003" stroke="#888" stroke-width="0.6"/>
<line x1="201.35" y1="339.3" x2="201.35" y2="340.90000000000003" stroke="#888" stroke-width="0.6"/>
<text x="62.6" y="351.2" text-anchor="middle" font-family='"Liberation Serif", serif' font-size="8.0" fill="#222" stroke="#222" stroke-width="0.15">0</text>
<text x="107.9" y="351.2" text-anchor="middle" font-family='"Liberation Serif", serif' font-size="8.0" fill="#222" stroke="#222" stroke-width="0.15">2</text>
<text x="153.4" y="351.2" text-anchor="middle" font-family='"Liberation Serif", serif' font-size="8.0" fill="#222" stroke="#222" stroke-width="0.15">4</text>
<text x="200.5" y="351.2" text-anchor="middle" font-family='"Liberation Serif", serif' font-size="8.0" fill="#222" stroke="#222" stroke-width="0.15">6</text>
<text x="97.1" y="198.6" font-family='"Liberation Serif", serif' font-size="10" fill="#111" stroke="#111" stroke-width="0.26">(</text>
<text x="101.1" y="198.6" font-family='"Liberation Serif", serif' font-size="10" fill="#111" stroke="#111" stroke-width="0.26">1</text>
<text x="108.6" y="198.6" font-family='"Liberation Serif", serif' font-size="10" fill="#111" stroke="#111" stroke-width="0.26">−</text>
<text x="119.3" y="198.6" font-family='"Liberation Serif", serif' font-size="10" font-style="italic" fill="#111" stroke="#111" stroke-width="0.26">f</text>
<text x="124.0" y="198.6" font-family='"Liberation Serif", serif' font-size="10" fill="#111" stroke="#111" stroke-width="0.26">)</text>
<text x="129.0" y="198.6" font-family='"Liberation Serif", serif' font-size="10" font-style="italic" fill="#111" stroke="#111" stroke-width="0.26">D</text>
<text x="139.2" y="198.8" font-family='"Liberation Serif", serif' font-size="10" textLength="32.80" lengthAdjust="spacingAndGlyphs" fill="#111" stroke="#111" stroke-width="0.26">vs IFTA</text>
<text x="53.1" y="218.7" font-family='"Liberation Serif", serif' font-size="10.2" textLength="105.60" lengthAdjust="spacingAndGlyphs" fill="#111" stroke="#111" stroke-width="0.26">Spearman's Rank = 0.307</text>
<text x="53.1" y="230.6" font-family='"Liberation Serif", serif' font-size="10.2" textLength="33.10" lengthAdjust="spacingAndGlyphs" fill="#111" stroke="#111" stroke-width="0.26">p = 0.03</text>
<text transform="translate(14.5,285.5) rotate(-90)" x="0" y="0" font-family='"Liberation Serif", serif' font-size="10.9" textLength="23.60" lengthAdjust="spacingAndGlyphs" fill="#111" stroke="#111" stroke-width="0.26">IVIM</text>
<text transform="translate(27.7,302.3) rotate(-90)" x="0" y="0" font-family='"Liberation Serif", serif' font-size="10.9" textLength="55.50" lengthAdjust="spacingAndGlyphs" fill="#111" stroke="#111" stroke-width="0.26">Mean (1-f)D</text>
<text x="13.5" y="366.2" font-family='"Liberation Serif", serif' font-size="13.5" fill="#111" stroke="#111" stroke-width="0.26">d)</text>
<text x="119.4" y="365.4" font-family='"Liberation Serif", serif' font-size="11.8" fill="#111" stroke="#111" stroke-width="0.26">IFTA</text>
<rect x="274.7" y="269.7" width="36.10" height="16.80" fill="none" stroke="#2a2a2a" stroke-width="1.0"/>
<line x1="274.7" y1="280.4" x2="310.8" y2="280.4" stroke="#2a2a2a" stroke-width="1.0"/>
<line x1="292.7" y1="245.3" x2="292.7" y2="269.7" stroke="#2a2a2a" stroke-width="1.0"/>
<line x1="292.7" y1="286.5" x2="292.7" y2="306.6" stroke="#2a2a2a" stroke-width="1.0"/>
<line x1="283.2" y1="245.3" x2="302.0" y2="245.3" stroke="#2a2a2a" stroke-width="1.0"/>
<line x1="283.2" y1="306.6" x2="302.0" y2="306.6" stroke="#2a2a2a" stroke-width="1.0"/>
<rect x="319.4" y="258.6" width="35.90" height="16.40" fill="none" stroke="#2a2a2a" stroke-width="1.0"/>
<line x1="319.4" y1="268.5" x2="355.3" y2="268.5" stroke="#2a2a2a" stroke-width="1.0"/>
<line x1="337.6" y1="242.5" x2="337.6" y2="258.6" stroke="#2a2a2a" stroke-width="1.0"/>
<line x1="337.6" y1="275.0" x2="337.6" y2="284.3" stroke="#2a2a2a" stroke-width="1.0"/>
<line x1="328.3" y1="242.5" x2="346.7" y2="242.5" stroke="#2a2a2a" stroke-width="1.0"/>
<line x1="328.3" y1="284.3" x2="346.7" y2="284.3" stroke="#2a2a2a" stroke-width="1.0"/>
<rect x="364.4" y="253.4" width="36.30" height="30.50" fill="none" stroke="#2a2a2a" stroke-width="1.0"/>
<line x1="364.4" y1="256.0" x2="400.7" y2="256.0" stroke="#2a2a2a" stroke-width="1.0"/>
<line x1="382.6" y1="252.0" x2="382.6" y2="253.4" stroke="#2a2a2a" stroke-width="1.0"/>
<line x1="382.6" y1="283.9" x2="382.6" y2="299.0" stroke="#2a2a2a" stroke-width="1.0"/>
<line x1="373.7" y1="252.0" x2="391.2" y2="252.0" stroke="#2a2a2a" stroke-width="1.0"/>
<line x1="373.7" y1="299.0" x2="391.2" y2="299.0" stroke="#2a2a2a" stroke-width="1.0"/>
<rect x="409.2" y="256.9" width="36.00" height="8.50" fill="none" stroke="#2a2a2a" stroke-width="1.0"/>
<line x1="409.2" y1="258.0" x2="445.2" y2="258.0" stroke="#2a2a2a" stroke-width="1.0"/>
<polyline points="292.75,280.4 337.35,268.5 382.55,256.0 427.20,258.0" fill="none" stroke="#1a1a1a" stroke-width="0.9"/>
<path d="M427.5 235.29999999999998L428.75 237.2L427.5 239.1L426.25 237.2Z" fill="#555" stroke="#444" stroke-width="0.3"/>
<path d="M427.5 293.40000000000003L428.75 295.3L427.5 297.2L426.25 295.3Z" fill="#555" stroke="#444" stroke-width="0.3"/>
<path d="M293.6 235.5L294.85 237.4L293.6 239.3L292.35 237.4Z" fill="#555" stroke="#444" stroke-width="0.3"/>
<circle cx="294.3" cy="237.4" r="1.25" fill="#111"/>
<circle cx="290.3" cy="245.5" r="1.25" fill="#111"/>
<circle cx="288.2" cy="248.8" r="1.25" fill="#111"/>
<circle cx="290" cy="261.4" r="1.25" fill="#111"/>
<circle cx="293" cy="261.4" r="1.25" fill="#111"/>
<circle cx="294" cy="268.5" r="1.25" fill="#111"/>
<circle cx="295.4" cy="267.7" r="1.25" fill="#111"/>
<circle cx="289.2" cy="271.2" r="1.25" fill="#111"/>
<circle cx="292.7" cy="272.6" r="1.25" fill="#111"/>
<circle cx="295.9" cy="274.2" r="1.25" fill="#111"/>
<circle cx="290.3" cy="275.3" r="1.25" fill="#111"/>
<circle cx="287.3" cy="278.2" r="1.25" fill="#111"/>
<circle cx="290.3" cy="281" r="1.25" fill="#111"/>
<circle cx="291.6" cy="282.3" r="1.25" fill="#111"/>
<circle cx="289.6" cy="283.5" r="1.25" fill="#111"/>
<circle cx="291" cy="284.6" r="1.25" fill="#111"/>
<circle cx="290" cy="287.6" r="1.25" fill="#111"/>
<circle cx="291.6" cy="286.9" r="1.25" fill="#111"/>
<circle cx="287.3" cy="289.6" r="1.25" fill="#111"/>
<circle cx="292.7" cy="289.6" r="1.25" fill="#111"/>
<circle cx="288.2" cy="298.4" r="1.25" fill="#111"/>
<circle cx="292.7" cy="301.8" r="1.25" fill="#111"/>
<circle cx="294.6" cy="306.8" r="1.25" fill="#111"/>
<circle cx="338" cy="242.5" r="1.25" fill="#111"/>
<circle cx="334.5" cy="248" r="1.25" fill="#111"/>
<circle cx="333.2" cy="257.1" r="1.25" fill="#111"/>
<circle cx="334.5" cy="258.3" r="1.25" fill="#111"/>
<circle cx="336.1" cy="259.9" r="1.25" fill="#111"/>
<circle cx="336.9" cy="268.5" r="1.25" fill="#111"/>
<circle cx="333.2" cy="273.4" r="1.25" fill="#111"/>
<circle cx="336.1" cy="274" r="1.25" fill="#111"/>
<circle cx="336.9" cy="275.3" r="1.25" fill="#111"/>
<circle cx="340.2" cy="275.6" r="1.25" fill="#111"/>
<circle cx="337.4" cy="281" r="1.25" fill="#111"/>
<circle cx="336.4" cy="283.8" r="1.25" fill="#111"/>
<circle cx="380.2" cy="252.4" r="1.25" fill="#111"/>
<circle cx="382.5" cy="252.4" r="1.25" fill="#111"/>
<circle cx="377.5" cy="255.9" r="1.25" fill="#111"/>
<circle cx="382.8" cy="272.5" r="1.25" fill="#111"/>
<circle cx="379" cy="295.9" r="1.25" fill="#111"/>
<circle cx="377.9" cy="299.4" r="1.25" fill="#111"/>
<circle cx="417.9" cy="237.2" r="1.25" fill="#111"/>
<circle cx="421.7" cy="295.3" r="1.25" fill="#111"/>
<circle cx="424.9" cy="258" r="1.25" fill="#111"/>
<circle cx="427.7" cy="256.9" r="1.25" fill="#111"/>
<circle cx="422.4" cy="265.6" r="1.25" fill="#111"/>
<rect x="270.3" y="203.4" width="179.90" height="133.60" fill="none" stroke="#9c9c9c" stroke-width="1"/>
<line x1="268.7" y1="337.00" x2="270.3" y2="337.00" stroke="#666" stroke-width="0.6"/>
<text x="266.4" y="339.00" text-anchor="end" font-family='"Liberation Sans", sans-serif' font-size="5.7" fill="#404040" stroke="#404040" stroke-width="0.12">1.0</text>
<line x1="268.7" y1="319.21" x2="270.3" y2="319.21" stroke="#666" stroke-width="0.6"/>
<text x="266.4" y="321.21" text-anchor="end" font-family='"Liberation Sans", sans-serif' font-size="5.7" fill="#404040" stroke="#404040" stroke-width="0.12">1.2</text>
<line x1="268.7" y1="301.42" x2="270.3" y2="301.42" stroke="#666" stroke-width="0.6"/>
<text x="266.4" y="303.42" text-anchor="end" font-family='"Liberation Sans", sans-serif' font-size="5.7" fill="#404040" stroke="#404040" stroke-width="0.12">1.4</text>
<line x1="268.7" y1="283.63" x2="270.3" y2="283.63" stroke="#666" stroke-width="0.6"/>
<text x="266.4" y="285.63" text-anchor="end" font-family='"Liberation Sans", sans-serif' font-size="5.7" fill="#404040" stroke="#404040" stroke-width="0.12">1.6</text>
<line x1="268.7" y1="265.84" x2="270.3" y2="265.84" stroke="#666" stroke-width="0.6"/>
<text x="266.4" y="267.84" text-anchor="end" font-family='"Liberation Sans", sans-serif' font-size="5.7" fill="#404040" stroke="#404040" stroke-width="0.12">1.8</text>
<line x1="268.7" y1="248.05" x2="270.3" y2="248.05" stroke="#666" stroke-width="0.6"/>
<text x="266.4" y="250.05" text-anchor="end" font-family='"Liberation Sans", sans-serif' font-size="5.7" fill="#404040" stroke="#404040" stroke-width="0.12">2.0</text>
<line x1="268.7" y1="230.26" x2="270.3" y2="230.26" stroke="#666" stroke-width="0.6"/>
<text x="266.4" y="232.26" text-anchor="end" font-family='"Liberation Sans", sans-serif' font-size="5.7" fill="#404040" stroke="#404040" stroke-width="0.12">2.2</text>
<line x1="268.7" y1="212.47" x2="270.3" y2="212.47" stroke="#666" stroke-width="0.6"/>
<text x="266.4" y="214.47" text-anchor="end" font-family='"Liberation Sans", sans-serif' font-size="5.7" fill="#404040" stroke="#404040" stroke-width="0.12">2.4</text>
<line x1="292.75" y1="337.0" x2="292.75" y2="338.6" stroke="#888" stroke-width="0.6"/>
<line x1="337.35" y1="337.0" x2="337.35" y2="338.6" stroke="#888" stroke-width="0.6"/>
<line x1="382.55" y1="337.0" x2="382.55" y2="338.6" stroke="#888" stroke-width="0.6"/>
<line x1="427.20" y1="337.0" x2="427.20" y2="338.6" stroke="#888" stroke-width="0.6"/>
<text x="294.4" y="349.3" text-anchor="middle" font-family='"Liberation Serif", serif' font-size="8.0" fill="#222" stroke="#222" stroke-width="0.15">0</text>
<text x="339.3" y="349.3" text-anchor="middle" font-family='"Liberation Serif", serif' font-size="8.0" fill="#222" stroke="#222" stroke-width="0.15">2</text>
<text x="384.8" y="349.3" text-anchor="middle" font-family='"Liberation Serif", serif' font-size="8.0" fill="#222" stroke="#222" stroke-width="0.15">4</text>
<text x="431.8" y="349.3" text-anchor="middle" font-family='"Liberation Serif", serif' font-size="8.0" fill="#222" stroke="#222" stroke-width="0.15">6</text>
<text x="336.0" y="197.4" font-family='"Liberation Serif", serif' font-size="10" textLength="56.90" lengthAdjust="spacingAndGlyphs" fill="#111" stroke="#111" stroke-width="0.26">ADC vs IFTA</text>
<text x="280.7" y="215.8" font-family='"Liberation Serif", serif' font-size="10.2" textLength="105.40" lengthAdjust="spacingAndGlyphs" fill="#111" stroke="#111" stroke-width="0.26">Spearman’s Rank = 0.349</text>
<text x="280.7" y="228.1" font-family='"Liberation Serif", serif' font-size="10.2" textLength="32.70" lengthAdjust="spacingAndGlyphs" fill="#111" stroke="#111" stroke-width="0.26">p = 0.01</text>
<text transform="translate(251.8,282.4) rotate(-90)" x="0" y="0" font-family='"Liberation Serif", serif' font-size="10.9" textLength="22.90" lengthAdjust="spacingAndGlyphs" fill="#111" stroke="#111" stroke-width="0.26">ADC</text>
<text x="244.2" y="366.2" font-family='"Liberation Serif", serif' font-size="13.5" fill="#111" stroke="#111" stroke-width="0.26">e)</text>
<text x="348.4" y="363.8" font-family='"Liberation Serif", serif' font-size="11.8" fill="#111" stroke="#111" stroke-width="0.26">IFTA</text>
<rect x="506.0" y="270.0" width="36.20" height="50.20" fill="none" stroke="#2a2a2a" stroke-width="1.0"/>
<line x1="506.0" y1="305.3" x2="542.2" y2="305.3" stroke="#2a2a2a" stroke-width="1.0"/>
<line x1="523.6" y1="216.2" x2="523.6" y2="270.0" stroke="#2a2a2a" stroke-width="1.0"/>
<line x1="523.6" y1="320.2" x2="523.6" y2="328.2" stroke="#2a2a2a" stroke-width="1.0"/>
<line x1="514.3" y1="216.2" x2="533.0" y2="216.2" stroke="#2a2a2a" stroke-width="1.0"/>
<line x1="514.3" y1="328.2" x2="533.0" y2="328.2" stroke="#2a2a2a" stroke-width="1.0"/>
<rect x="551.5" y="298.4" width="35.60" height="18.60" fill="none" stroke="#2a2a2a" stroke-width="1.0"/>
<line x1="551.5" y1="311.2" x2="587.1" y2="311.2" stroke="#2a2a2a" stroke-width="1.0"/>
<line x1="568.7" y1="282.6" x2="568.7" y2="298.4" stroke="#2a2a2a" stroke-width="1.0"/>
<line x1="568.7" y1="317.0" x2="568.7" y2="324.4" stroke="#2a2a2a" stroke-width="1.0"/>
<line x1="559.9" y1="282.6" x2="578.0" y2="282.6" stroke="#2a2a2a" stroke-width="1.0"/>
<line x1="559.9" y1="324.4" x2="578.0" y2="324.4" stroke="#2a2a2a" stroke-width="1.0"/>
<rect x="596.1" y="287.0" width="35.70" height="35.10" fill="none" stroke="#2a2a2a" stroke-width="1.0"/>
<line x1="596.1" y1="314.2" x2="631.8" y2="314.2" stroke="#2a2a2a" stroke-width="1.0"/>
<line x1="614.0" y1="287.3" x2="614.0" y2="287.0" stroke="#2a2a2a" stroke-width="1.0"/>
<line x1="614.0" y1="322.1" x2="614.0" y2="327.9" stroke="#2a2a2a" stroke-width="1.0"/>
<line x1="605.0" y1="287.3" x2="623.5" y2="287.3" stroke="#2a2a2a" stroke-width="1.0"/>
<line x1="605.0" y1="327.9" x2="623.5" y2="327.9" stroke="#2a2a2a" stroke-width="1.0"/>
<rect x="641.1" y="302.5" width="36.00" height="11.70" fill="none" stroke="#2a2a2a" stroke-width="1.0"/>
<line x1="641.1" y1="311.2" x2="677.1" y2="311.2" stroke="#2a2a2a" stroke-width="1.0"/>
<line x1="658.7" y1="302.5" x2="658.7" y2="302.5" stroke="#2a2a2a" stroke-width="1.0"/>
<line x1="658.7" y1="314.2" x2="658.7" y2="324.4" stroke="#2a2a2a" stroke-width="1.0"/>
<line x1="649.4" y1="302.5" x2="668.0" y2="302.5" stroke="#2a2a2a" stroke-width="1.0"/>
<line x1="649.4" y1="324.4" x2="668.0" y2="324.4" stroke="#2a2a2a" stroke-width="1.0"/>
<polyline points="524.10,305.3 569.30,311.2 613.95,314.2 659.10,311.2" fill="none" stroke="#1a1a1a" stroke-width="0.9"/>
<path d="M614.4 225.7L615.65 227.6L614.4 229.5L613.15 227.6Z" fill="#555" stroke="#444" stroke-width="0.3"/>
<path d="M658.6 230.9L659.85 232.8L658.6 234.70000000000002L657.35 232.8Z" fill="#555" stroke="#444" stroke-width="0.3"/>
<circle cx="520.2" cy="216.2" r="1.25" fill="#111"/>
<circle cx="523.6" cy="234.7" r="1.25" fill="#111"/>
<circle cx="523.6" cy="249.9" r="1.25" fill="#111"/>
<circle cx="520.2" cy="261.6" r="1.25" fill="#111"/>
<circle cx="521.1" cy="267.9" r="1.25" fill="#111"/>
<circle cx="523.5" cy="267.9" r="1.25" fill="#111"/>
<circle cx="522.4" cy="273.3" r="1.25" fill="#111"/>
<circle cx="525.2" cy="277.7" r="1.25" fill="#111"/>
<circle cx="521.9" cy="286.3" r="1.25" fill="#111"/>
<circle cx="523.5" cy="286.3" r="1.25" fill="#111"/>
<circle cx="521.9" cy="292" r="1.25" fill="#111"/>
<circle cx="522.7" cy="299.7" r="1.25" fill="#111"/>
<circle cx="518.9" cy="305.1" r="1.25" fill="#111"/>
<circle cx="527.7" cy="306.2" r="1.25" fill="#111"/>
<circle cx="518.2" cy="308.6" r="1.25" fill="#111"/>
<circle cx="520.3" cy="309.6" r="1.25" fill="#111"/>
<circle cx="520.9" cy="310.3" r="1.25" fill="#111"/>
<circle cx="516.9" cy="317.7" r="1.25" fill="#111"/>
<circle cx="522.7" cy="320.4" r="1.25" fill="#111"/>
<circle cx="523.2" cy="321.4" r="1.25" fill="#111"/>
<circle cx="520.9" cy="322.4" r="1.25" fill="#111"/>
<circle cx="521.6" cy="323.5" r="1.25" fill="#111"/>
<circle cx="522.3" cy="326.5" r="1.25" fill="#111"/>
<circle cx="521.6" cy="327.8" r="1.25" fill="#111"/>
<circle cx="523" cy="328.5" r="1.25" fill="#111"/>
<circle cx="525.7" cy="328.5" r="1.25" fill="#111"/>
<circle cx="565.2" cy="282.6" r="1.25" fill="#111"/>
<circle cx="565.2" cy="289.6" r="1.25" fill="#111"/>
<circle cx="570.4" cy="291.4" r="1.25" fill="#111"/>
<circle cx="567.8" cy="296.7" r="1.25" fill="#111"/>
<circle cx="564.6" cy="306.8" r="1.25" fill="#111"/>
<circle cx="564" cy="309.5" r="1.25" fill="#111"/>
<circle cx="565.2" cy="316" r="1.25" fill="#111"/>
<circle cx="566.9" cy="316.5" r="1.25" fill="#111"/>
<circle cx="564.3" cy="322.6" r="1.25" fill="#111"/>
<circle cx="566" cy="321.2" r="1.25" fill="#111"/>
<circle cx="567.8" cy="324.7" r="1.25" fill="#111"/>
<circle cx="611.8" cy="227.6" r="1.25" fill="#111"/>
<circle cx="609.3" cy="287.5" r="1.25" fill="#111"/>
<circle cx="607.9" cy="315.3" r="1.25" fill="#111"/>
<circle cx="610.2" cy="320" r="1.25" fill="#111"/>
<circle cx="616" cy="324.7" r="1.25" fill="#111"/>
<circle cx="608.4" cy="327.9" r="1.25" fill="#111"/>
<circle cx="655.3" cy="232.8" r="1.25" fill="#111"/>
<circle cx="657.5" cy="302.8" r="1.25" fill="#111"/>
<circle cx="659.6" cy="311.2" r="1.25" fill="#111"/>
<circle cx="657.8" cy="314.7" r="1.25" fill="#111"/>
<circle cx="658.2" cy="324.7" r="1.25" fill="#111"/>
<rect x="501.3" y="203.0" width="180.30" height="133.40" fill="none" stroke="#9c9c9c" stroke-width="1"/>
<line x1="499.7" y1="336.40" x2="501.3" y2="336.40" stroke="#666" stroke-width="0.6"/>
<text x="497.7" y="338.40" text-anchor="end" font-family='"Liberation Sans", sans-serif' font-size="5.3" fill="#404040" stroke="#404040" stroke-width="0.12">40</text>
<line x1="499.7" y1="319.76" x2="501.3" y2="319.76" stroke="#666" stroke-width="0.6"/>
<text x="497.7" y="321.76" text-anchor="end" font-family='"Liberation Sans", sans-serif' font-size="5.3" fill="#404040" stroke="#404040" stroke-width="0.12">50</text>
<line x1="499.7" y1="303.12" x2="501.3" y2="303.12" stroke="#666" stroke-width="0.6"/>
<text x="497.7" y="305.12" text-anchor="end" font-family='"Liberation Sans", sans-serif' font-size="5.3" fill="#404040" stroke="#404040" stroke-width="0.12">60</text>
<line x1="499.7" y1="286.48" x2="501.3" y2="286.48" stroke="#666" stroke-width="0.6"/>
<text x="497.7" y="288.48" text-anchor="end" font-family='"Liberation Sans", sans-serif' font-size="5.3" fill="#404040" stroke="#404040" stroke-width="0.12">70</text>
<line x1="499.7" y1="269.84" x2="501.3" y2="269.84" stroke="#666" stroke-width="0.6"/>
<text x="497.7" y="271.84" text-anchor="end" font-family='"Liberation Sans", sans-serif' font-size="5.3" fill="#404040" stroke="#404040" stroke-width="0.12">80</text>
<line x1="499.7" y1="253.20" x2="501.3" y2="253.20" stroke="#666" stroke-width="0.6"/>
<text x="497.7" y="255.20" text-anchor="end" font-family='"Liberation Sans", sans-serif' font-size="5.3" fill="#404040" stroke="#404040" stroke-width="0.12">90</text>
<line x1="499.7" y1="236.56" x2="501.3" y2="236.56" stroke="#666" stroke-width="0.6"/>
<text x="497.7" y="238.56" text-anchor="end" font-family='"Liberation Sans", sans-serif' font-size="5.3" fill="#404040" stroke="#404040" stroke-width="0.12">100</text>
<line x1="499.7" y1="219.92" x2="501.3" y2="219.92" stroke="#666" stroke-width="0.6"/>
<text x="497.7" y="221.92" text-anchor="end" font-family='"Liberation Sans", sans-serif' font-size="5.3" fill="#404040" stroke="#404040" stroke-width="0.12">110</text>
<line x1="499.7" y1="203.28" x2="501.3" y2="203.28" stroke="#666" stroke-width="0.6"/>
<text x="497.7" y="205.28" text-anchor="end" font-family='"Liberation Sans", sans-serif' font-size="5.3" fill="#404040" stroke="#404040" stroke-width="0.12">120</text>
<line x1="524.10" y1="336.4" x2="524.10" y2="338.0" stroke="#888" stroke-width="0.6"/>
<line x1="569.30" y1="336.4" x2="569.30" y2="338.0" stroke="#888" stroke-width="0.6"/>
<line x1="613.95" y1="336.4" x2="613.95" y2="338.0" stroke="#888" stroke-width="0.6"/>
<line x1="659.10" y1="336.4" x2="659.10" y2="338.0" stroke="#888" stroke-width="0.6"/>
<text x="522.6" y="348.4" text-anchor="middle" font-family='"Liberation Serif", serif' font-size="8.0" fill="#222" stroke="#222" stroke-width="0.15">0</text>
<text x="567.9" y="348.4" text-anchor="middle" font-family='"Liberation Serif", serif' font-size="8.0" fill="#222" stroke="#222" stroke-width="0.15">2</text>
<text x="613.2" y="348.4" text-anchor="middle" font-family='"Liberation Serif", serif' font-size="8.0" fill="#222" stroke="#222" stroke-width="0.15">4</text>
<text x="660.5" y="348.4" text-anchor="middle" font-family='"Liberation Serif", serif' font-size="8.0" fill="#222" stroke="#222" stroke-width="0.15">6</text>
<text x="556.8" y="196.7" font-family='"Liberation Serif", serif' font-size="10" textLength="59.80" lengthAdjust="spacingAndGlyphs" fill="#111" stroke="#111" stroke-width="0.26">eGFR vs IFTA</text>
<text x="539.6" y="214.2" font-family='"Liberation Serif", serif' font-size="10.2" textLength="108.70" lengthAdjust="spacingAndGlyphs" fill="#111" stroke="#111" stroke-width="0.26">Spearman’s Rank = -0.125</text>
<text x="539.6" y="225.3" font-family='"Liberation Serif", serif' font-size="10.2" textLength="38.90" lengthAdjust="spacingAndGlyphs" fill="#111" stroke="#111" stroke-width="0.26">p = 0.370</text>
<text transform="translate(471.5,276.9) rotate(-90)" x="0" y="0" font-family='"Liberation Serif", serif' font-size="10.9" textLength="25.10" lengthAdjust="spacingAndGlyphs" fill="#111" stroke="#111" stroke-width="0.26">eGFR</text>
<text transform="translate(484.0,292.2) rotate(-90)" x="0" y="0" font-family='"Liberation Serif", serif' font-size="10.9" textLength="52.20" lengthAdjust="spacingAndGlyphs" fill="#111" stroke="#111" stroke-width="0.26">ml/min/1.73</text>
<text transform="translate(480.0,239.5) rotate(-90)" x="0" y="0" font-family='"Liberation Serif", serif' font-size="7" fill="#111" stroke="#111" stroke-width="0.26">2</text>
<text x="470.1" y="366.5" font-family='"Liberation Serif", serif' font-size="13.5" fill="#111" stroke="#111" stroke-width="0.26">f)</text>
<text x="581.9" y="362.3" font-family='"Liberation Serif", serif' font-size="11.8" fill="#111" stroke="#111" stroke-width="0.26">IFTA</text>
</svg>
</body></html>
